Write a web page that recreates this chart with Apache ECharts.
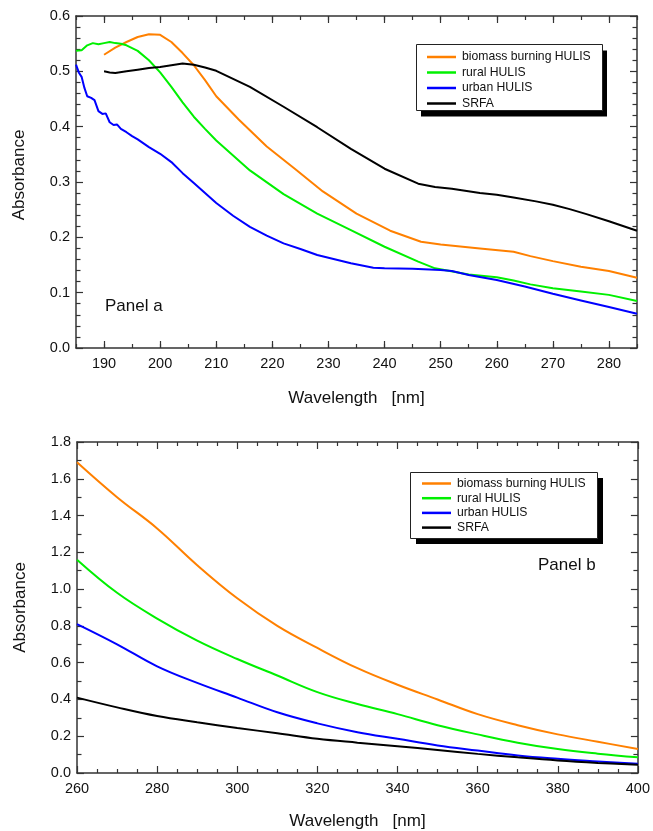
<!DOCTYPE html>
<html>
<head>
<meta charset="utf-8">
<script src="https://cdn.jsdelivr.net/npm/echarts@6/dist/echarts.min.js"></script>
<style>
  html, body { margin: 0; padding: 0; background: #fff; }
  #chart { width: 653px; height: 831px; }
</style>
</head>
<body>
<div id="chart"></div>
<script>
// ---------- Panel a data ----------
const seriesNames = ['biomass burning HULIS', 'rural HULIS', 'urban HULIS', 'SRFA'];
const seriesColors = ['#ff8000', '#00f000', '#0000ff', '#000000'];

const aBiomassWl = [190,192,194,196,198,200,202,204,206,208,210,214,219,224,229,235,241,246.5,250,257,263,266,270,275,280,285];
const aBiomassAbs = [0.530,0.543,0.553,0.562,0.567,0.566,0.553,0.533,0.511,0.484,0.455,0.413,0.364,0.324,0.283,0.243,0.212,0.192,0.187,0.180,0.174,0.166,0.157,0.147,0.139,0.127];

const aRuralWl = [185,186,187,188,189,190,191,192,193,194,196,198,200,202,204,206,208,210,216,222,228,234,240,246,249,255,260,263,266,270,275,280,285];
const aRuralAbs = [0.537,0.538,0.547,0.551,0.549,0.551,0.553,0.551,0.550,0.547,0.537,0.520,0.498,0.472,0.444,0.418,0.396,0.375,0.321,0.278,0.243,0.213,0.183,0.156,0.144,0.133,0.128,0.122,0.115,0.108,0.102,0.096,0.085];

const aUrbanWl = [185,185.5,186,186.5,187,187.7,188.3,189,189.7,190.3,191,191.7,192.3,193,194,195,196,198,200,202,204,206,208,210,213,216,219,222,225,228,234,238,240,245,250,252,255,260,265,270,275,280,285];
const aUrbanAbs = [0.512,0.498,0.490,0.470,0.455,0.452,0.448,0.428,0.423,0.424,0.408,0.403,0.404,0.396,0.390,0.383,0.377,0.363,0.351,0.336,0.316,0.298,0.280,0.262,0.239,0.219,0.203,0.189,0.179,0.168,0.153,0.145,0.144,0.143,0.141,0.139,0.132,0.123,0.111,0.098,0.086,0.074,0.062];

const aSrfaWl = [190,191,192,194,196,198,200,202,204,206,208,210,216,222,228,234,240,246,249,252,257,260,263,267,270,273,276,280,285];
const aSrfaAbs = [0.500,0.498,0.497,0.500,0.503,0.506,0.508,0.511,0.514,0.512,0.507,0.501,0.472,0.436,0.399,0.360,0.324,0.297,0.291,0.288,0.280,0.277,0.272,0.265,0.259,0.251,0.242,0.229,0.212];

// ---------- Panel b data ----------
const bWl = [260,270,280,290,300,310,320,330,340,350,360,370,380,390,400];
const bBiomassAbs = [1.69,1.50,1.33,1.13,0.95,0.80,0.68,0.57,0.48,0.40,0.32,0.26,0.21,0.17,0.13];
const bRuralAbs   = [1.16,0.98,0.84,0.72,0.62,0.53,0.44,0.375,0.32,0.26,0.21,0.165,0.13,0.105,0.085];
const bUrbanAbs   = [0.81,0.70,0.58,0.49,0.41,0.33,0.27,0.222,0.186,0.15,0.122,0.095,0.077,0.063,0.05];
const bSrfaAbs    = [0.41,0.357,0.31,0.276,0.245,0.216,0.186,0.165,0.146,0.125,0.104,0.085,0.068,0.055,0.045];

// ---------- Axis ticks ----------
const aXMin = 185, aXMax = 285, aXMinorStep = 5;
const aXMajorTicks = [190,200,210,220,230,240,250,260,270,280];
const aYMin = 0, aYMax = 0.6, aYStep = 0.1;
const bXMin = 260, bXMax = 400, bXStep = 20;
const bYMin = 0, bYMax = 1.8, bYStep = 0.2;

function zip(xs, ys) { return xs.map((x, i) => [x, ys[i]]); }

const FONT = 'Liberation Sans, Arial, sans-serif';
const axisLineStyle = { color: '#333', width: 1.5 };
const tickLine = { color: '#333', width: 1.2 };

function xAxisCfg(gridIndex, pos, min, max, step, minorSplit, showLabels, formatter, name, gap) {
  const cfg = {
    type: 'value', gridIndex, position: pos, min, max, interval: step,
    axisLine: { show: true, onZero: false, lineStyle: axisLineStyle },
    axisTick: { show: true, inside: true, length: 7, lineStyle: tickLine },
    minorTick: { show: minorSplit > 1, splitNumber: minorSplit || 1, length: 4, lineStyle: tickLine },
    splitLine: { show: false },
    axisLabel: { show: showLabels, color: '#111', fontSize: 14.5, fontFamily: FONT, margin: 8, formatter: formatter,
                 showMinLabel: true, showMaxLabel: true },
  };
  if (name) {
    cfg.name = name; cfg.nameLocation = 'middle'; cfg.nameGap = gap;
    cfg.nameTextStyle = { color: '#111', fontSize: 17, fontFamily: FONT };
  }
  return cfg;
}
// panel a x axes: major ticks at multiples of 10, minor ticks every 5 (overlay axis)
function aMajorX(pos, showLabels, name) {
  const cfg = xAxisCfg(0, pos, aXMin, aXMax, aXMinorStep, 0, showLabels, aXFormatter, name, 42);
  cfg.axisTick.customValues = aXMajorTicks;
  cfg.axisLabel.customValues = aXMajorTicks;
  return cfg;
}
function aMinorX(pos) {
  const cfg = xAxisCfg(0, pos, aXMin, aXMax, aXMinorStep, 0, false, aXFormatter, null);
  cfg.axisLine.show = false;
  cfg.axisTick.length = 4;
  return cfg;
}
function yAxisCfg(gridIndex, pos, min, max, step, minorSplit, showLabels, name, namePad) {
  const cfg = {
    type: 'value', gridIndex, position: pos, min, max, interval: step,
    axisLine: { show: true, onZero: false, lineStyle: axisLineStyle },
    axisTick: { show: true, inside: true, length: 7, lineStyle: tickLine },
    minorTick: { show: true, splitNumber: minorSplit, length: 4.5, lineStyle: tickLine },
    splitLine: { show: false },
    axisLabel: { show: showLabels, color: '#111', fontSize: 14.5, fontFamily: FONT, margin: 6,
                 formatter: v => v.toFixed(1) },
  };
  if (name) {
    cfg.name = name; cfg.nameLocation = 'middle'; cfg.nameGap = 48; cfg.nameRotate = 90;
    cfg.nameTextStyle = { color: '#111', fontSize: 17, fontFamily: FONT, padding: namePad };
  }
  return cfg;
}

const aXFormatter = v => (Math.round(v) % 10 === 0 ? String(Math.round(v)) : '');
const bXFormatter = v => String(Math.round(v));

function legendCfg(left, top, gap) {
  return {
    orient: 'vertical', left, top,
    data: seriesNames, icon: 'rect', itemWidth: 29, itemHeight: 2.5, itemGap: gap,
    padding: 0,
    textStyle: { color: '#111', fontSize: 12.2, fontFamily: FONT, lineHeight: 13, padding: [0, 0, 0, 1] },
    selectedMode: false, z: 10
  };
}

function legendBox(x, y, w, h, dx, dy) {
  return [
    { type: 'rect', left: x + dx, top: y + dy, shape: { width: w, height: h }, style: { fill: '#000' }, z: 5 },
    { type: 'rect', left: x, top: y, shape: { width: w, height: h }, style: { fill: '#fff', stroke: '#222', lineWidth: 1 }, z: 6 }
  ];
}

const aData = [zip(aBiomassWl, aBiomassAbs), zip(aRuralWl, aRuralAbs), zip(aUrbanWl, aUrbanAbs), zip(aSrfaWl, aSrfaAbs)];
const bData = [zip(bWl, bBiomassAbs), zip(bWl, bRuralAbs), zip(bWl, bUrbanAbs), zip(bWl, bSrfaAbs)];

const series = [];
seriesNames.forEach((n, i) => {
  series.push({ name: n, type: 'line', xAxisIndex: 0, yAxisIndex: 0, data: aData[i],
    showSymbol: false, symbol: 'none', smooth: false,
    lineStyle: { color: seriesColors[i], width: 2 }, itemStyle: { color: seriesColors[i] }, z: 3 });
});
seriesNames.forEach((n, i) => {
  series.push({ name: n, type: 'line', xAxisIndex: 2, yAxisIndex: 2, data: bData[i],
    showSymbol: false, symbol: 'none', smooth: 0.4,
    lineStyle: { color: seriesColors[i], width: 2 }, itemStyle: { color: seriesColors[i] }, z: 3 });
});

const titleStyle = { fontSize: 17, fontWeight: 'normal', color: '#111', fontFamily: FONT };
const option = {
  animation: false,
  backgroundColor: '#fff',
  title: [
    { text: 'Panel a', left: 105, top: 298, padding: 0, textStyle: titleStyle },
    { text: 'Panel b', left: 538, top: 557, padding: 0, textStyle: titleStyle }
  ],
  graphic: [].concat(legendBox(416, 44, 186, 66, 5, 6.5), legendBox(410, 472, 187, 66, 6, 6)),
  legend: [ legendCfg(427, 50.5, 2.5), legendCfg(422, 477, 1.7) ],
  grid: [
    { left: 76, top: 16, right: 16, height: 332, containLabel: false },
    { left: 77, top: 442, right: 13, bottom: 57, containLabel: false }
  ],
  xAxis: [
    aMajorX('bottom', true, 'Wavelength   [nm]'),
    aMajorX('top', false, null),
    xAxisCfg(1, 'bottom', bXMin, bXMax, bXStep, 4, true, bXFormatter, 'Wavelength   [nm]', 40),
    xAxisCfg(1, 'top', bXMin, bXMax, bXStep, 4, false, bXFormatter, null),
    aMinorX('bottom'),
    aMinorX('top')
  ],
  yAxis: [
    yAxisCfg(0, 'left', aYMin, aYMax, aYStep, 5, true, 'Absorbance', [0, 0, 0, 14]),
    yAxisCfg(0, 'right', aYMin, aYMax, aYStep, 5, false, null),
    yAxisCfg(1, 'left', bYMin, bYMax, bYStep, 2, true, 'Absorbance', 0),
    yAxisCfg(1, 'right', bYMin, bYMax, bYStep, 2, false, null)
  ],
  series
};

const chart = echarts.init(document.getElementById('chart'), null, { renderer: 'canvas' });
chart.setOption(option);
</script>
</body>
</html>
